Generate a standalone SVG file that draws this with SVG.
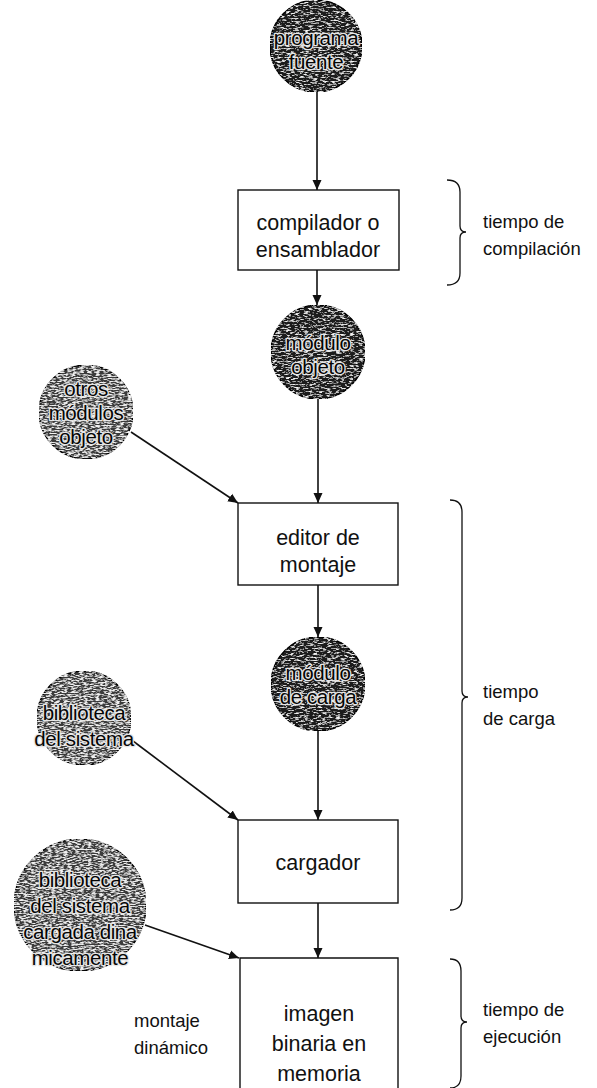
<svg xmlns="http://www.w3.org/2000/svg" width="597" height="1088" viewBox="0 0 597 1088">
<style>
  .box { fill: #fff; stroke: #111; stroke-width: 1.4; }
  .bt { font-family: "Liberation Sans", Arial, sans-serif; font-size: 21.5px; fill: #111; text-anchor: middle; }
  .lbl { font-family: "Liberation Sans", Arial, sans-serif; font-size: 18.5px; fill: #111; }
  .ct { font-family: "Liberation Sans", Arial, sans-serif; font-size: 20.5px; fill: #050505; text-anchor: middle; stroke: #e6e6e6; stroke-width: 2.6; paint-order: stroke; stroke-linejoin: round; letter-spacing: -0.4px; }
  .dark { fill: #1c1c1c; stroke: #000; stroke-width: 1.4; }
  .mid { fill: #3a3a3a; stroke: #000; stroke-width: 1.4; }
  .conn { stroke: #111; stroke-width: 1.6; fill: none; }
  .brace { stroke: #111; stroke-width: 1.3; fill: none; }
</style>
<defs>
  <filter id="texDark" x="0" y="0" width="1" height="1">
    <feTurbulence type="fractalNoise" baseFrequency="0.22 0.7" numOctaves="4" seed="7" result="noise"/>
    <feColorMatrix in="noise" type="matrix" values="0 0 0 0 0.9  0 0 0 0 0.9  0 0 0 0 0.9  4 0 0 0 -2.05" result="speck"/>
    <feComposite in="speck" in2="SourceAlpha" operator="in" result="sp"/>
    <feMerge><feMergeNode in="SourceGraphic"/><feMergeNode in="sp"/></feMerge>
  </filter>
  <filter id="texMid" x="0" y="0" width="1" height="1">
    <feTurbulence type="fractalNoise" baseFrequency="0.25 0.75" numOctaves="4" seed="11" result="noise"/>
    <feColorMatrix in="noise" type="matrix" values="0 0 0 0 0.88  0 0 0 0 0.88  0 0 0 0 0.88  4 0 0 0 -1.75" result="speck"/>
    <feComposite in="speck" in2="SourceAlpha" operator="in" result="sp"/>
    <feMerge><feMergeNode in="SourceGraphic"/><feMergeNode in="sp"/></feMerge>
  </filter>
  <marker id="ah" markerWidth="10" markerHeight="10" refX="10" refY="5" orient="auto" markerUnits="userSpaceOnUse">
    <path d="M0,0.5 L10,5 L0,9.5 Z" fill="#111"/>
  </marker>
</defs>
<rect width="597" height="1088" fill="#fff"/>

<g id="connectors">
  <line class="conn" x1="317" y1="92" x2="317" y2="190" marker-end="url(#ah)"/>
  <line class="conn" x1="317" y1="270" x2="317" y2="305" marker-end="url(#ah)"/>
  <line class="conn" x1="318" y1="399" x2="318" y2="503" marker-end="url(#ah)"/>
  <line class="conn" x1="131" y1="432" x2="238" y2="503" marker-end="url(#ah)"/>
  <line class="conn" x1="318" y1="585" x2="318" y2="637" marker-end="url(#ah)"/>
  <line class="conn" x1="318" y1="731" x2="318" y2="820" marker-end="url(#ah)"/>
  <line class="conn" x1="129" y1="738" x2="238" y2="820" marker-end="url(#ah)"/>
  <line class="conn" x1="318" y1="903" x2="318" y2="958" marker-end="url(#ah)"/>
  <line class="conn" x1="145" y1="925" x2="239" y2="958" marker-end="url(#ah)"/>
</g>

<g id="programa-fuente">
  <circle class="dark" cx="316" cy="46" r="46" filter="url(#texDark)"/>
  <text class="ct" x="316" y="45">programa</text>
  <text class="ct" x="316" y="69">fuente</text>
</g>

<g id="compilador">
  <rect class="box" x="238" y="190" width="161" height="80"/>
  <text class="bt" x="318" y="230">compilador o</text>
  <text class="bt" x="318" y="257">ensamblador</text>
</g>

<g id="tiempo-compilacion">
  <path class="brace" d="M447,180 Q460,180 460,192 L460,226 Q460,232 466,232 Q460,232 460,238 L460,273 Q460,285 447,285"/>
  <text class="lbl" x="483" y="228">tiempo de</text>
  <text class="lbl" x="483" y="255">compilación</text>
</g>

<g id="modulo-objeto">
  <circle class="dark" cx="318" cy="352" r="47" filter="url(#texDark)"/>
  <text class="ct" x="318" y="350">módulo</text>
  <text class="ct" x="318" y="374">objeto</text>
</g>

<g id="otros-modulos">
  <circle class="mid" cx="86" cy="412" r="47" filter="url(#texMid)"/>
  <text class="ct" x="86" y="396">otros</text>
  <text class="ct" x="86" y="420">módulos</text>
  <text class="ct" x="86" y="444">objeto</text>
</g>

<g id="editor-montaje">
  <rect class="box" x="238" y="503" width="160" height="82"/>
  <text class="bt" x="318" y="545">editor de</text>
  <text class="bt" x="318" y="572">montaje</text>
</g>

<g id="tiempo-carga">
  <path class="brace" d="M450,500 Q462,500 462,512 L462,691 Q462,697 468,697 Q462,697 462,703 L462,898 Q462,910 450,910"/>
  <text class="lbl" x="483" y="698">tiempo</text>
  <text class="lbl" x="483" y="725">de carga</text>
</g>

<g id="modulo-carga">
  <circle class="dark" cx="318" cy="684" r="47" filter="url(#texDark)"/>
  <text class="ct" x="318" y="680">módulo</text>
  <text class="ct" x="318" y="704">de carga</text>
</g>

<g id="biblioteca-sistema">
  <circle class="mid" cx="84" cy="718" r="47" filter="url(#texMid)"/>
  <text class="ct" x="84" y="720">biblioteca</text>
  <text class="ct" x="84" y="746">del sistema</text>
</g>

<g id="cargador">
  <rect class="box" x="238" y="820" width="160" height="83"/>
  <text class="bt" x="318" y="870">cargador</text>
</g>

<g id="biblioteca-dinamica">
  <circle class="mid" cx="80" cy="905" r="66" filter="url(#texMid)"/>
  <text class="ct" x="80" y="887">biblioteca</text>
  <text class="ct" x="80" y="913">del sistema</text>
  <text class="ct" x="80" y="939">cargada dina</text>
  <text class="ct" x="80" y="965">micamente</text>
</g>

<g id="montaje-dinamico">
  <text class="lbl" x="134" y="1027">montaje</text>
  <text class="lbl" x="134" y="1054">dinámico</text>
</g>

<g id="imagen-binaria">
  <path class="box" d="M240,1090 L240,958 L398,958 L398,1090"/>
  <text class="bt" x="319" y="1021">imagen</text>
  <text class="bt" x="319" y="1051">binaria en</text>
  <text class="bt" x="319" y="1081">memoria</text>
</g>

<g id="tiempo-ejecucion">
  <path class="brace" d="M450,959 Q461,959 461,971 L461,1016 Q461,1022 467,1022 Q461,1022 461,1028 L461,1076 Q461,1088 450,1088"/>
  <text class="lbl" x="483" y="1016">tiempo de</text>
  <text class="lbl" x="483" y="1043">ejecución</text>
</g>
</svg>
